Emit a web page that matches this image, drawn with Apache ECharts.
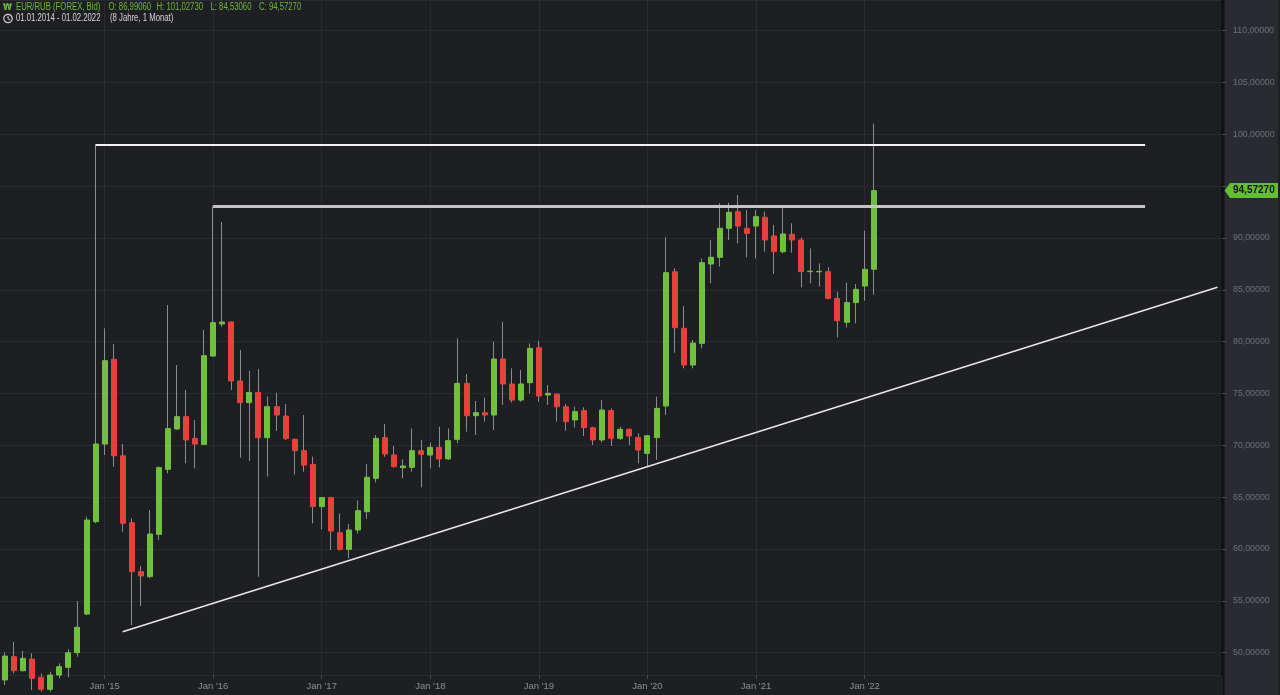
<!DOCTYPE html>
<html><head><meta charset="utf-8">
<script src="https://cdn.jsdelivr.net/npm/echarts@6/dist/echarts.min.js"></script>
<style>html,body{margin:0;padding:0;background:#1e1f23;}#c{width:1280px;height:695px;}</style>
</head><body><div id="c"></div>
<script>
// ---- data ----
const monthNames = ['Jan','Feb','Mar','Apr','May','Jun','Jul','Aug','Sep','Oct','Nov','Dec'];
const categories = [];
for (let y = 2014; categories.length < 136; y++) {
  for (let m = 0; m < 12 && categories.length < 136; m++) categories.push(monthNames[m] + " '" + String(y).slice(2));
}
// monthly OHLC, Jan 2014 .. Feb 2022
const open = [45.00,47.37,49.62,48.27,49.39,47.63,46.47,47.85,48.59,50.00,53.73,62.64,
 70.13,78.30,69.00,62.54,57.82,57.34,61.42,67.69,71.58,72.77,70.68,70.10,
 78.62,81.71,81.90,76.21,74.12,75.11,70.74,73.73,72.83,70.58,69.49,68.17,
 64.09,64.96,61.58,59.97,61.84,63.60,66.82,70.74,69.07,67.85,67.88,69.49,
 69.07,69.81,68.69,70.58,75.98,72.86,73.15,72.93,78.33,75.92,74.37,76.05,
 79.42,74.86,74.95,73.73,72.45,73.35,71.71,70.52,73.35,70.68,71.55,70.77,
 69.23,70.74,73.80,86.75,81.29,77.75,79.84,87.49,88.14,90.94,92.54,90.94,
 91.16,92.00,90.20,88.68,90.36,89.81,86.76,86.74,86.76,84.18,81.87,83.77,
 85.37,86.9906];
const close = [47.40,49.68,48.27,49.46,47.53,46.47,47.85,48.65,50.00,52.45,62.80,70.13,
 78.17,69.00,62.48,57.82,57.40,61.45,67.85,71.61,72.77,70.52,70.13,78.65,
 81.84,81.90,76.21,74.12,75.11,70.74,73.73,72.93,70.65,69.49,68.10,64.09,
 64.96,61.74,59.97,61.84,63.70,66.92,70.68,69.17,67.95,68.01,69.49,69.13,
 69.81,68.69,70.45,75.98,72.86,73.15,72.93,78.33,75.92,74.37,75.92,79.36,
 74.76,75.02,73.73,72.29,73.25,71.71,70.52,73.41,70.68,71.55,70.90,69.55,
 70.93,73.57,86.66,81.35,77.75,79.87,87.62,88.14,90.94,92.48,91.16,90.45,
 92.06,89.81,88.68,90.39,89.81,86.76,86.80,86.78,84.18,82.03,83.77,85.05,
 86.98,94.5727];
const low = [44.90,46.89,48.01,48.17,46.40,46.24,46.24,47.53,47.63,49.62,53.63,62.48,
 69.07,67.95,61.67,52.67,54.50,57.17,60.87,67.30,71.48,68.27,67.78,70.03,
 78.56,81.45,75.34,68.81,68.49,57.33,67.00,71.39,70.52,67.20,67.46,62.48,
 61.90,59.90,59.84,59.10,61.50,62.90,66.43,68.90,67.85,66.82,67.46,65.95,
 67.78,67.88,68.60,70.20,71.32,71.00,72.30,71.48,73.90,74.12,74.21,75.02,
 74.21,73.90,72.29,71.42,71.71,70.90,70.03,70.29,69.94,70.52,70.03,68.27,
 67.95,68.60,72.93,78.94,77.43,77.43,79.36,85.63,87.24,89.81,89.49,88.14,
 88.04,88.68,86.53,88.52,88.59,85.24,85.63,85.31,84.09,80.42,81.38,81.77,
 83.96,84.5306];
const high = [48.20,50.04,51.06,50.17,49.94,48.00,48.17,48.98,50.33,54.99,63.12,99.00,
 81.29,79.78,70.13,62.96,58.36,63.76,67.95,83.54,77.75,75.34,72.45,81.13,
 93.10,91.55,81.95,79.20,77.20,77.37,74.70,75.08,73.99,70.68,72.93,68.91,
 65.00,65.05,63.44,62.41,64.67,68.20,71.00,72.06,69.94,68.65,71.64,70.52,
 70.26,71.80,71.64,80.32,76.88,74.28,74.60,80.00,81.93,77.43,77.27,79.84,
 80.10,75.82,75.02,73.99,73.73,73.67,71.80,74.37,73.57,71.80,71.64,71.16,
 71.00,74.70,90.07,87.08,83.44,80.16,88.04,89.81,93.35,93.41,94.15,92.70,
 92.70,92.54,91.26,93.03,91.42,90.03,89.00,87.56,87.18,84.83,85.70,85.57,
 90.71,101.0273];
// drawn annotations
const resistanceFrom = ["Dec '14", "Jan '16"];
const resistanceTo = ["Aug '24", "Aug '24"];
const resistanceLevel = [99.04, 93.09];
const trendFrom = ["Mar '15", 52.03];
const trendTo = ["Apr '25", 85.25];
// header texts
const headerLine1 = ['EUR/RUB (FOREX, Bid)', 'O: 86,99060', 'H: 101,02730', 'L: 84,53060', 'C: 94,57270'];
const headerLine2 = ['01.01.2014 - 01.02.2022', '(8 Jahre, 1 Monat)'];

// ---- chart ----
const chart = echarts.init(document.getElementById('c'), null, {renderer: 'canvas'});
const lastIdx = open.length - 1;
const wickData = open.map((o, i) => [low[i], high[i], low[i], high[i]]);
const bodyData = open.map((o, i) => [o, close[i], Math.min(o, close[i]), Math.max(o, close[i])]);
const GREEN = '#6fc13b', RED = '#e8403a', WICK = '#8a8c91';
const fmt = v => v.toFixed(5).replace('.', ',');
const showJan = (i) => i % 12 === 0 && i > 0 && i <= lastIdx;

chart.setOption({
  animation: false,
  backgroundColor: '#1e1f23',
  grid: {left: -8.5, right: 58, top: 0, bottom: 20, containLabel: false, outerBoundsMode: 'none'},
  xAxis: {
    type: 'category', data: categories, boundaryGap: true,
    axisLine: {show: false},
    axisTick: {show: true, alignWithLabel: true, length: 4, lineStyle: {color: '#45474d'}, interval: showJan},
    axisLabel: {color: '#8b8e94', fontSize: 9.5, fontFamily: 'Liberation Sans, Arial, sans-serif', margin: 6,
      interval: showJan},
    splitLine: {show: true, alignWithLabel: true, lineStyle: {color: '#2a2b30', width: 1}, interval: showJan}
  },
  yAxis: {
    type: 'value', position: 'right', min: 47.85, max: 112.96, splitNumber: 13, scale: true,
    axisLine: {show: true, lineStyle: {color: '#121316', width: 2}},
    axisTick: {show: true, length: 4, lineStyle: {color: '#4a4c52'}},
    axisLabel: {color: '#6d7077', fontSize: 8.8, fontFamily: 'Liberation Sans, Arial, sans-serif', margin: 11,
      showMinLabel: false, showMaxLabel: false, formatter: fmt},
    splitLine: {show: true, lineStyle: {color: '#2a2b30', width: 1}}
  },
  series: [
    {type: 'candlestick', name: 'wick', data: wickData, barWidth: 1, clip: false, silent: true,
      itemStyle: {color: WICK, color0: WICK, borderColor: WICK, borderColor0: WICK, borderWidth: 1}},
    {type: 'candlestick', name: 'EUR/RUB', data: bodyData, barWidth: 5.5, clip: false, silent: true,
      itemStyle: {color: GREEN, color0: RED, borderColor: GREEN, borderColor0: RED, borderWidth: 1},
      markLine: {
        silent: true, symbol: ['none', 'none'], label: {show: false}, animation: false,
        data: [
          [{coord: [resistanceFrom[0], resistanceLevel[0]], lineStyle: {color: '#f2f2f2', width: 2, type: 'solid'}},
           {coord: [resistanceTo[0], resistanceLevel[0]]}],
          [{coord: [resistanceFrom[1], resistanceLevel[1]], lineStyle: {color: '#c4c4c4', width: 3, type: 'solid'}},
           {coord: [resistanceTo[1], resistanceLevel[1]]}],
          [{coord: trendFrom, lineStyle: {color: '#e8e8e8', width: 1.5, type: 'solid'}},
           {coord: trendTo}]
        ]
      }
    }
  ]
});

const lastClose = close[lastIdx];
const yTag = chart.convertToPixel({yAxisIndex: 0}, lastClose);
const font = '10px "Liberation Sans", Arial, sans-serif';
const SX = 0.775;
const x1 = [16, 108.5, 156.5, 210.5, 259];
const x2 = [16, 110];
const headerEls = [];
headerLine1.forEach((t, i) => headerEls.push({type: 'text', z: 50, silent: true, x: x1[i], y: 7.5, scaleX: SX,
  style: {text: t, fill: '#6dbb3c', font: font, verticalAlign: 'middle'}}));
headerLine2.forEach((t, i) => headerEls.push({type: 'text', z: 50, silent: true, x: x2[i], y: 18.5, scaleX: SX,
  style: {text: t, fill: '#d6d6d6', font: font, verticalAlign: 'middle'}}));

chart.setOption({
  graphic: [
    {type: 'rect', z: -10, silent: true, shape: {x: 1224, y: 0, width: 56, height: 695}, style: {fill: '#2a2b30'}},
    {type: 'rect', z: -9, silent: true, shape: {x: 1223, y: 0, width: 1.5, height: 695}, style: {fill: '#121316'}},
    {type: 'rect', z: -9, silent: true, shape: {x: 1278, y: 0, width: 2, height: 695}, style: {fill: '#1e1f23'}},
    {type: 'text', z: 50, silent: true, x: 3, y: 7.5, scaleX: 0.9,
      style: {text: '₩', fill: '#6dbb3c', font: 'bold 9px "DejaVu Sans", sans-serif', verticalAlign: 'middle'}},
    ...headerEls,
    {type: 'circle', z: 50, silent: true, shape: {cx: 8, cy: 18.5, r: 4.2}, style: {fill: 'none', stroke: '#d0d0d0', lineWidth: 1.2}},
    {type: 'polyline', z: 50, silent: true, shape: {points: [[8, 15.8], [8, 18.8], [10.3, 20]]}, style: {stroke: '#d0d0d0', lineWidth: 1, fill: 'none'}},
    // last price tag
    {type: 'polygon', z: 100, silent: true,
      shape: {points: [[1224.5, yTag], [1230, yTag - 7.5], [1278, yTag - 7.5], [1278, yTag + 7.5], [1230, yTag + 7.5]]},
      style: {fill: '#62bf31'}},
    {type: 'text', z: 101, silent: true, x: 1233, y: yTag,
      style: {text: fmt(lastClose), fill: '#111', font: 'bold 10px "Liberation Sans", Arial, sans-serif', verticalAlign: 'middle'}}
  ]
});
</script></body></html>
